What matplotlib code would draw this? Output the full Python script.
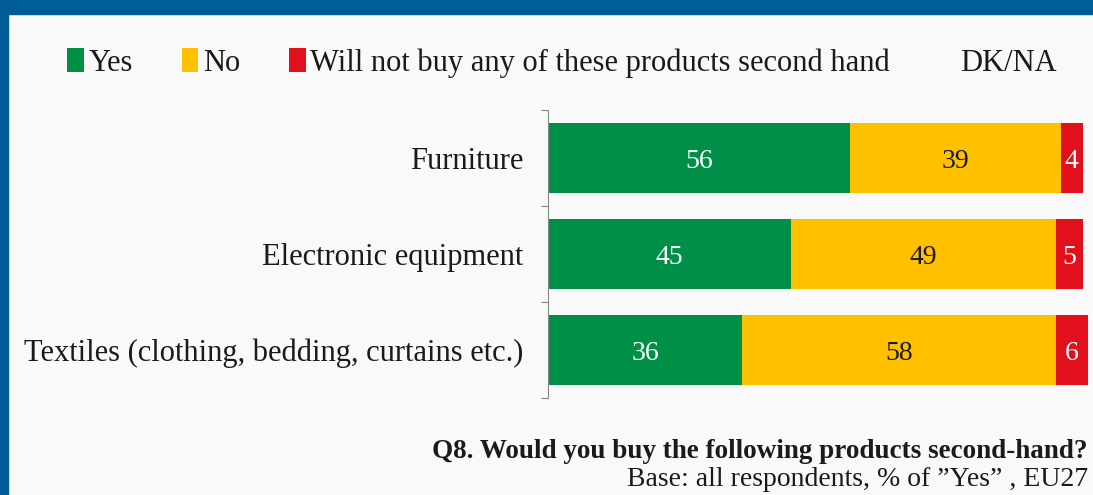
import matplotlib
matplotlib.use("Agg")
import matplotlib.pyplot as plt
from matplotlib.patches import Rectangle
import numpy as np

categories = ["Furniture", "Electronic equipment", "Textiles (clothing, bedding, curtains etc.)"]
series_names = ["Yes", "No", "Will not buy any of these products second hand", "DK/NA"]
yes_vals = [56, 45, 36]
no_vals = [39, 49, 58]
wont_vals = [4, 5, 6]
dkna_vals = [1, 1, 0]

colors = ["#008f47", "#ffc000", "#e2101c", "#f9f9f9"]
label_colors = ["white", "#1a1a1a", "white", "#1a1a1a"]
bg = "#f9f9f9"
frame_blue = "#005c99"
serif = ["Liberation Serif", "DejaVu Serif"]

fig = plt.figure(figsize=(10.93, 4.95), dpi=100, facecolor=bg)
W, H = 1093, 495

# frame bands along the top and left edges
fig.patches.append(Rectangle((0, 1 - 14 / H), 1, 14 / H, transform=fig.transFigure,
                             color=frame_blue, zorder=0))
fig.patches.append(Rectangle((0, 0), 8 / W, 1, transform=fig.transFigure,
                             color=frame_blue, zorder=0))

ax = fig.add_axes([548 / W, 1 - 398 / H, 540 / W, 288 / H])
ax.set_facecolor(bg)

y = np.arange(len(categories))
series = [yes_vals, no_vals, wont_vals, dkna_vals]
left = np.zeros(len(categories))
for name, vals, c, lc in zip(series_names, series, colors, label_colors):
    vals = np.array(vals, dtype=float)
    ax.barh(y, vals, left=left, height=0.72, color=c, label=name, linewidth=0)
    if name != "DK/NA":
        for yi, v, l0 in zip(y, vals, left):
            ax.text(l0 + v / 2, yi, f"{v:g}", ha="center", va="center_baseline",
                    color=lc, fontsize=20, family=serif)
    left += vals

ax.set_xlim(0, 100)
ax.set_ylim(len(categories) - 0.5, -0.5)
ax.set_yticks(y)
ax.set_yticklabels(categories, family=serif, fontsize=22, color="#1a1a1a")
ax.tick_params(axis="y", which="major", length=0, pad=18)
ax.set_yticks(np.arange(-0.5, len(categories), 1.0), minor=True)
ax.tick_params(axis="y", which="minor", length=5, width=0.8, color="#888888")
ax.set_xticks([])
for s in ["top", "right", "bottom"]:
    ax.spines[s].set_visible(False)
ax.spines["left"].set_color("#888888")
ax.spines["left"].set_linewidth(0.8)

# legend row
handles, labels = ax.get_legend_handles_labels()
leg = fig.legend(handles, labels, loc="center", bbox_to_anchor=(562 / W, 1 - 63 / H),
                 ncol=4, frameon=False, prop={"family": serif, "size": 22},
                 handlelength=0.55, handleheight=0.8, handletextpad=0.15,
                 columnspacing=1.6)
for t in leg.get_texts():
    t.set_color("#1a1a1a")

fig.text(1088 / W, 1 - 452 / H, "Q8. Would you buy the following products second-hand?",
         ha="right", va="center", family=serif, fontsize=19.5, fontweight="bold",
         color="#1a1a1a")
fig.text(1088 / W, 1 - 479 / H, "Base: all respondents, % of \u201dYes\u201d , EU27",
         ha="right", va="center", family=serif, fontsize=20, color="#1a1a1a")

fig.savefig("out.png", dpi=100, facecolor=bg)
